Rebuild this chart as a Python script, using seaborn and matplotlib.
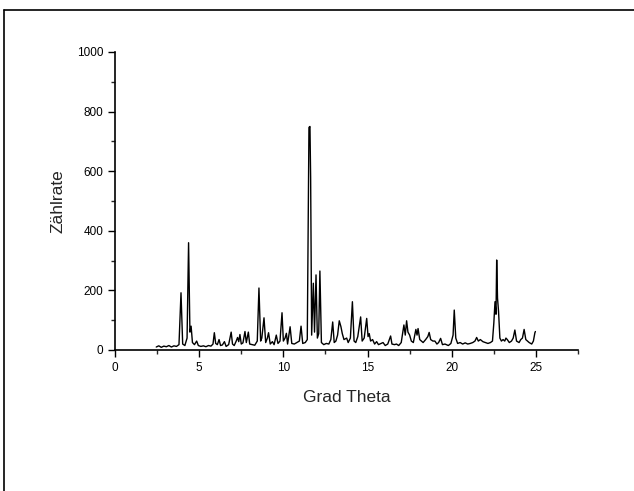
import matplotlib
matplotlib.use("Agg")
import matplotlib.pyplot as plt
from matplotlib.lines import Line2D
from matplotlib.ticker import MultipleLocator
import seaborn as sns
import pandas as pd

theta = [2.45, 2.6, 2.75, 2.9, 3.05, 3.2, 3.35, 3.5, 3.65, 3.8, 3.92, 4.02, 4.15, 4.28, 4.37, 4.45, 4.52, 4.6, 4.72, 4.85,
         4.95, 5.1, 5.25, 5.4, 5.55, 5.7, 5.82, 5.9, 5.98, 6.08, 6.18, 6.27, 6.38, 6.5, 6.6, 6.75, 6.9, 6.98, 7.08, 7.2,
         7.28, 7.35, 7.42, 7.5, 7.6, 7.72, 7.8, 7.92, 8.0, 8.15, 8.3, 8.45, 8.55, 8.65, 8.72, 8.85, 8.95, 9.05, 9.12, 9.22,
         9.35, 9.45, 9.58, 9.68, 9.8, 9.92, 10.0, 10.1, 10.18, 10.25, 10.4, 10.5, 10.65, 10.8, 10.95, 11.05, 11.15, 11.3, 11.42, 11.52,
         11.58, 11.62, 11.68, 11.78, 11.85, 11.94, 12.02, 12.1, 12.17, 12.26, 12.4, 12.55, 12.7, 12.82, 12.93, 13.02, 13.12, 13.22, 13.32, 13.42,
         13.5, 13.6, 13.76, 13.85, 13.98, 14.1, 14.2, 14.3, 14.42, 14.59, 14.68, 14.8, 14.95, 15.03, 15.1, 15.18, 15.3, 15.42, 15.54, 15.65,
         15.8, 15.92, 16.05, 16.2, 16.37, 16.45, 16.6, 16.72, 16.85, 17.0, 17.16, 17.24, 17.32, 17.4, 17.5, 17.6, 17.72, 17.87, 17.94, 18.0,
         18.1, 18.2, 18.3, 18.45, 18.58, 18.66, 18.75, 18.88, 19.0, 19.12, 19.22, 19.34, 19.45, 19.6, 19.8, 19.95, 20.08, 20.15, 20.24, 20.35,
         20.5, 20.65, 20.8, 20.95, 21.1, 21.25, 21.38, 21.48, 21.58, 21.7, 21.85, 22.0, 22.15, 22.3, 22.42, 22.5, 22.57, 22.63, 22.67, 22.72,
         22.78, 22.86, 22.95, 23.05, 23.15, 23.22, 23.3, 23.42, 23.55, 23.65, 23.75, 23.85, 24.0, 24.1, 24.2, 24.3, 24.4, 24.5, 24.6, 24.75,
         24.85, 24.94, 24.97]
counts = [10, 14, 9, 13, 11, 15, 10, 14, 12, 18, 192, 20, 15, 40, 360, 60, 80, 25, 18, 30,
          15, 12, 14, 11, 15, 13, 20, 58, 22, 18, 35, 15, 17, 28, 12, 18, 60, 20, 15, 30,
          42, 28, 52, 20, 24, 62, 25, 60, 20, 18, 16, 30, 208, 30, 40, 108, 25, 40, 58, 20,
          28, 18, 50, 22, 30, 125, 30, 40, 56, 20, 78, 22, 20, 25, 30, 80, 22, 25, 35, 747,
          750, 578, 50, 224, 60, 252, 40, 55, 265, 25, 18, 22, 20, 35, 94, 25, 30, 50, 98, 78,
          55, 35, 40, 25, 40, 162, 30, 25, 45, 111, 30, 40, 106, 45, 55, 30, 35, 20, 28, 18,
          22, 25, 15, 20, 47, 20, 18, 20, 15, 25, 84, 50, 98, 60, 50, 30, 25, 69, 50, 72,
          35, 30, 25, 35, 45, 59, 35, 30, 30, 20, 25, 39, 18, 20, 15, 22, 50, 134, 40, 22,
          25, 20, 24, 20, 22, 25, 30, 42, 30, 35, 28, 25, 22, 25, 30, 90, 162, 120, 302, 174,
          130, 40, 30, 35, 30, 40, 35, 25, 30, 40, 67, 30, 25, 35, 40, 69, 35, 30, 25, 20,
          30, 58, 62]

x_label = "Grad Theta"
y_label = "Zählrate"

sns.set_style("ticks")
plt.rcParams["font.family"] = ["Liberation Sans", "DejaVu Sans"]

df = pd.DataFrame({"theta": theta, "counts": counts})

fig = plt.figure(figsize=(6.34, 4.91), dpi=100)
ax = fig.add_axes([115 / 634, 1 - 350 / 491, (578 - 115) / 634, (350 - 52) / 491])
sns.lineplot(data=df, x="theta", y="counts", ax=ax, color="black", linewidth=1.0,
             estimator=None, sort=False)

ax.set_xlim(0, 27.5)
ax.set_ylim(0, 1000)
ax.xaxis.set_major_locator(MultipleLocator(5))
ax.xaxis.set_minor_locator(MultipleLocator(2.5))
ax.yaxis.set_major_locator(MultipleLocator(200))
ax.yaxis.set_minor_locator(MultipleLocator(100))
ax.tick_params(which="major", direction="out", length=5, width=1, labelsize=8.5, colors="black")
ax.tick_params(which="minor", direction="out", length=3, width=1)
ax.set_xlabel(x_label, fontsize=12.5, labelpad=12)
ax.set_ylabel(y_label, fontsize=12.5, labelpad=8)
for s in ["top", "right"]:
    ax.spines[s].set_visible(False)
for s in ["left", "bottom"]:
    ax.spines[s].set_linewidth(1.2)
    ax.spines[s].set_color("black")

# page frame (top and left edges)
fig.add_artist(Line2D([4 / 634, 1.0], [1 - 10 / 491, 1 - 10 / 491], transform=fig.transFigure, color="black", linewidth=1.2))
fig.add_artist(Line2D([4 / 634, 4 / 634], [0, 1 - 10 / 491], transform=fig.transFigure, color="black", linewidth=1.2))

fig.savefig("out.png", dpi=100)
